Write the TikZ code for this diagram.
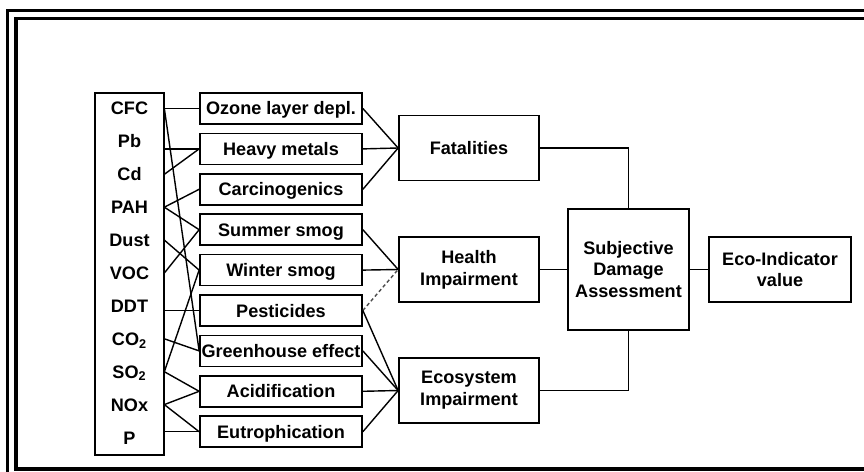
\documentclass[tikz,border=0pt]{standalone}
\usepackage{fontspec}
\setmainfont{Liberation Sans}
\begin{document}
\begin{tikzpicture}[x=0.02cm,y=-0.02cm]
\tikzstyle{every node}+=[inner sep=0pt,font=\fontsize{10.3}{12.4}\selectfont\bfseries,align=center]
\tikzstyle{subst}=[minimum width=1.38cm,text height=7.4pt,text depth=0pt]
\tikzstyle{effect}=[draw,line width=1pt,minimum width=3.24cm,minimum height=0.62cm,text height=7.4pt,text depth=0pt]
\tikzstyle{damage}=[draw,line width=1pt,minimum width=2.8cm,minimum height=1.3cm]
\tikzstyle{link}=[line width=0.8pt]
\useasboundingbox (0,0) rectangle (864,472);
\draw [line width=2pt] (7.5,10.5) rectangle (878,477);
\draw [line width=2pt] (16,18.5) rectangle (870,469);
\node [draw,line width=1pt,minimum width=1.38cm,minimum height=7.24cm] (list) at (129.5,274) {};
\node [subst] (cfc) at (129.5,108.5) {CFC};
\node [subst] (pb) at (129.5,141.4) {Pb};
\node [subst] (cd) at (129.5,174.3) {Cd};
\node [subst] (pah) at (129.5,207.2) {PAH};
\node [subst] (dust) at (129.5,240.1) {Dust};
\node [subst] (voc) at (129.5,273) {VOC};
\node [subst] (ddt) at (129.5,305.9) {DDT};
\node [subst] (co2) at (129.5,338.8) {CO\textsubscript{2}};
\node [subst] (so2) at (129.5,371.7) {SO\textsubscript{2}};
\node [subst] (nox) at (129.5,404.6) {NOx};
\node [subst] (phos) at (129.5,437.5) {P};
\node [effect] (ozone) at (281,108.5) {Ozone layer depl.};
\node [effect] (heavy) at (281,148.9) {Heavy metals};
\node [effect] (carc) at (281,189.3) {Carcinogenics};
\node [effect] (summer) at (281,229.7) {Summer smog};
\node [effect] (winter) at (281,270.1) {Winter smog};
\node [effect] (pest) at (281,310.5) {Pesticides};
\node [effect] (green) at (281,350.9) {Greenhouse effect};
\node [effect] (acid) at (281,391.3) {Acidification};
\node [effect] (eutro) at (281,431.7) {Eutrophication};
\node [damage] (fat) at (469,148) {Fatalities};
\node [damage] (health) at (469,269.5) {Health\\Impairment};
\node [damage] (eco) at (469,390.5) {Ecosystem\\Impairment};
\node [draw,line width=1pt,minimum width=2.42cm,minimum height=2.42cm] (subj) at (628.5,269.5) {Subjective\\Damage\\Assessment};
\node [draw,line width=1pt,minimum width=2.84cm,minimum height=1.3cm] (value) at (780,269.5) {Eco-Indicator\\value};
\draw [link] (cfc.east) -- (ozone.west);
\draw [link] (cfc.east) -- (green.west);
\draw [link] (heavy.west -| pb.east) -- (heavy.west);
\draw [link] (cd.east) -- (heavy.west);
\draw [link] (pah.east) -- (carc.west);
\draw [link] (pah.east) -- (summer.west);
\draw [link] (dust.east) -- (winter.west);
\draw [link] (voc.east) -- (summer.west);
\draw [link] (pest.west -| ddt.east) -- (pest.west);
\draw [link] (co2.east) -- (green.west);
\draw [link] (so2.east) -- (winter.west);
\draw [link] (so2.east) -- (acid.west);
\draw [link] (nox.east) -- (acid.west);
\draw [link] (nox.east) -- (eutro.west);
\draw [link] (eutro.west -| phos.east) -- (eutro.west);
\draw [link] (ozone.east) -- (fat.west);
\draw [link] (heavy.east) -- (fat.west);
\draw [link] (carc.east) -- (fat.west);
\draw [link] (summer.east) -- (health.west);
\draw [link] (winter.east) -- (health.west);
\draw [link,black!70,dash pattern=on 2pt off 1.5pt] (pest.east) -- (health.west);
\draw [link] (pest.east) -- (eco.west);
\draw [link] (green.east) -- (eco.west);
\draw [link] (acid.east) -- (eco.west);
\draw [link] (eutro.east) -- (eco.west);
\draw [link] (fat.east) -| (subj.north);
\draw [link] (health.east) -- (subj.west);
\draw [link] (eco.east) -| (subj.south);
\draw [link] (subj.east) -- (value.west);
\end{tikzpicture}
\end{document}
